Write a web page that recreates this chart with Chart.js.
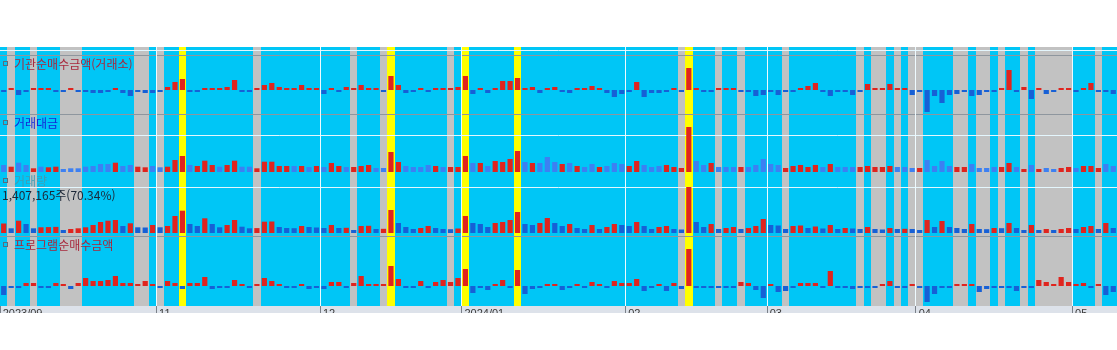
<!DOCTYPE html>
<html lang="ko">
<head>
<meta charset="utf-8">
<title>기관순매수금액 / 거래대금 / 거래량 / 프로그램순매수금액</title>
<script src="https://cdn.jsdelivr.net/npm/chart.js@4.4.1/dist/chart.umd.min.js"></script>
<style>
  html, body { margin: 0; padding: 0; background: #fff; }
  #clip { width: 1117px; height: 313px; overflow: hidden; }
  #box { position: relative; width: 1117px; height: 326px; }
</style>
</head>
<body>
<div id="clip"><div id="box"><canvas id="chart"></canvas></div></div>
<script>
// trading days shown on the chart, by month
const tradingDays = [
  ['2023/09', [26, 27]],
  ['2023/10', [4, 5, 6, 10, 11, 12, 13, 16, 17, 18, 19, 20, 23, 24, 25, 26, 27, 30, 31]],
  ['2023/11', [1, 2, 3, 6, 7, 8, 9, 10, 13, 14, 15, 16, 17, 20, 21, 22, 23, 24, 27, 28, 29, 30]],
  ['2023/12', [1, 4, 5, 6, 7, 8, 11, 12, 13, 14, 15, 18, 19, 20, 21, 22, 26, 27, 28]],
  ['2024/01', [2, 3, 4, 5, 8, 9, 10, 11, 12, 15, 16, 17, 18, 19, 22, 23, 24, 25, 26, 29, 30, 31]],
  ['2024/02', [1, 2, 5, 6, 7, 8, 13, 14, 15, 16, 19, 20, 21, 22, 23, 26, 27, 28, 29]],
  ['2024/03', [4, 5, 6, 7, 8, 11, 12, 13, 14, 15, 18, 19, 20, 21, 22, 25, 26, 27, 28, 29]],
  ['2024/04', [1, 2, 3, 4, 5, 8, 9, 11, 12, 15, 16, 17, 18, 19, 22, 23, 24, 25, 26, 29, 30]],
  ['2024/05', [2, 3, 7, 8, 9, 10]],
];

// x axis tick labels
const monthTicks = [
  ['2023/09/26', '2023/09'], ['2023/11/01', '11'], ['2023/12/01', '12'], ['2024/01/02', '2024/01'],
  ['2024/02/01', '02'], ['2024/03/04', '03'], ['2024/04/01', '04'], ['2024/05/02', '05'],
];

// highlighted days (background bands)
const yellowDays = ['2023/11/06', '2023/12/14', '2024/01/02', '2024/01/11', '2024/02/15'];
const grayDays = [
  '2023/09/27', '2023/10/06', '2023/10/13', '2023/10/16', '2023/10/17', '2023/10/27', '2023/10/30',
  '2023/11/01', '2023/11/20', '2023/12/07', '2023/12/13', '2023/12/27', '2024/02/14', '2024/02/21',
  '2024/02/26', '2024/03/06', '2024/03/20', '2024/03/22', '2024/03/25', '2024/03/27', '2024/03/29',
  '2024/04/01', '2024/04/08', '2024/04/09', '2024/04/12', '2024/04/15', '2024/04/17', '2024/04/22',
  '2024/04/24', '2024/04/25', '2024/04/26', '2024/04/29', '2024/04/30', '2024/05/08',
];

// 기관순매수금액(거래소)
const instNet = [
  -1, 1, -5, -1, 2, 1, 2, -1, -1, 1, -1, -2, -3, -3, -1, 1, -3, -6, -1, -3,
  -3, -1, 3, 8, 11, -2, -1, 2, 1, 1, 3, 10, -1, -1, 1, 5, 7, 3,
  2, 1, 5, 2, 2, -4, 2, -2, 3, 1, 5, 1, 1, -2, 14, 5, -3, -1, 1, -2,
  2, 2, 1, 3, 14, -4, 2, -3, 2, 9, 9, 12, 2, 3, -3, 2, 3,
  -1, -3, 1, 1, 4, 2, -3, -7, -4, -2, 8, -7, -3, -3, -2, 2, -2, 22, 2, -1,
  -1, 1, 1, 2, -1, -1, -6, -5, -1, -5, -1, -1, 2, 4, 7, -2, -6, -1,
  -2, -5, -1, 6, 1, 1, 6, 2, 1, -5, -1, -22, -6, -13, -5, -4, -2, -6, -5, -1,
  -1, 2, 20, -2, 3, -9, 1, -4, -2, 2, 1, -1, 2, 7, -2, -2, -4,
];

// 거래대금 and its up(1)/down(0) flags
const amount = [
  7, 5.3, 9.3, 7, 3.7, 5.3, 4.7, 5.3, 3, 3.7, 3.7, 5.3, 6, 8, 8, 9.3, 6, 7, 5.3, 4.7,
  6, 4.7, 5.3, 12, 16, 7, 6, 11.3, 7, 5.3, 7, 11.3, 5.3, 5.3, 3.7, 10.3, 10.3, 6,
  6, 6, 6, 5, 6, 5, 9, 6, 5, 5, 6, 7, 4, 4, 20, 10, 6, 5, 5, 7,
  6, 5, 5, 5, 16, 9, 9, 6, 11, 10, 13, 21, 10, 9, 9, 15, 10,
  8, 9, 6, 5, 8, 5, 6, 9, 8, 6, 11, 7, 5, 6, 7, 5, 4, 45, 11, 7,
  9, 5, 5, 5, 5, 5, 7, 13, 8, 7, 4, 6, 7, 5, 7, 5, 8, 5,
  5, 5, 5, 6, 5, 5, 6, 5, 5, 4, 4, 12, 6, 11, 6, 5, 5, 8, 4, 4,
  5, 5, 9, 5, 3, 7, 3, 4, 3, 4, 5, 4, 6, 6, 4, 8, 6,
];
const amountUp = [
  0, 1, 0, 0, 1, 0, 1, 1, 0, 0, 0, 0, 0, 0, 0, 1, 0, 0, 1, 1,
  0, 0, 1, 1, 1, 0, 1, 1, 1, 0, 1, 1, 0, 0, 1, 1, 1, 1,
  1, 0, 1, 0, 1, 0, 1, 1, 0, 1, 1, 1, 0, 0, 1, 1, 0, 0, 0, 0,
  1, 0, 1, 1, 1, 0, 1, 0, 1, 1, 1, 1, 0, 1, 0, 0, 0,
  1, 0, 1, 0, 0, 1, 0, 0, 0, 1, 1, 0, 0, 0, 1, 1, 1, 1, 0, 0,
  1, 0, 0, 0, 1, 0, 0, 0, 0, 0, 1, 1, 1, 1, 1, 0, 1, 0,
  0, 0, 1, 1, 1, 1, 1, 0, 0, 0, 1, 0, 0, 0, 0, 1, 1, 0, 0, 0,
  0, 1, 1, 0, 1, 0, 1, 0, 0, 1, 1, 0, 1, 1, 1, 0, 0,
];

// 거래량
const volume = [
  9.5, 4.7, 12.3, 9, 4.7, 5.7, 5.9, 6.1, 3, 4, 4.7, 5.7, 8, 11, 12.3, 13, 7, 9.7, 5.7, 5.5,
  8, 5.7, 7, 17, 22.3, 9, 7, 14.7, 9, 5.7, 8, 13, 6.3, 4.7, 4.9, 11.3, 11.5, 6,
  5, 4.8, 7, 6, 5.5, 5, 8, 5, 5.2, 3, 7, 7.2, 4, 4.2, 23, 10, 6, 4, 5, 7,
  5, 4, 3.8, 4.5, 17, 10, 9, 6, 10, 11, 13, 21, 9, 8, 10, 15, 10,
  7, 9, 5, 4, 8, 4, 6, 9, 8, 7, 11, 7, 4, 6, 7, 4, 3.5, 46, 11, 6,
  9, 4, 5, 6, 4, 5, 7, 14, 8, 7.5, 4, 7, 7.5, 5, 6.5, 4.5, 8, 4,
  5, 4.5, 4, 6, 4, 3.5, 5, 4, 4.2, 4, 3, 13, 6, 12, 6, 5, 4, 9, 4, 3.8,
  5, 4.8, 10, 5, 3, 8, 3, 4, 3, 4, 5, 4, 6, 7, 4, 10, 5,
];

// 프로그램순매수금액
const programNet = [
  -9, -1, -1, 3, 3, -2, -1, 3, 1, -3, 3, 8, 5, 5, 6, 10, 3, 3, 1, 5,
  1, -1, 5, 3, -3, 3, 3, 9, -3, -1, -1, 6, 2, -2, 2, 8, 5, 1,
  -1, -1, 2, -3, -1, -3, 4, 4, -2, 3, 10, 2, 1, 1, 20, 7, -2, -1, 5, -1,
  4, 6, 4, 8, 17, -7, -2, -4, 2, 6, -1, 16, -8, -3, -1, 1, 2,
  -4, -1, 2, -1.5, 4, 1, -1, 5, 3, 3, 7, -5, -2, 2, -5, 3, -3, 37, -2, -1,
  -1, -2, -1, -1, 4, 3, -4, -12, 1, -6, -5, -2, 3, 3, 3, -1.5, 15, -1,
  -1, -3, -1, -1, -1, 2, 5, -1, -1, 1, -1, -16, -8, -2, -2, 1, 1, 1, -6, -3,
  -1, -1, -2, -5, -1, -1, 6, 4, 2, 9, 4, 1, 3, -1, 1, -9, -6,
];

const volumeNote = '1,407,165주(70.34%)';

const dates = [];
tradingDays.forEach(([ym, days]) => days.forEach(d => dates.push(ym + '/' + String(d).padStart(2, '0'))));
const tickLabelAt = {};
monthTicks.forEach(([d, label]) => { tickLabelAt[dates.indexOf(d)] = label; });

const RED = '#e0241e';
const BLUE = '#1660d6';
const LIGHT_BLUE = '#3d80f2';
const CYAN = '#00c6f6';
const CLEAR = 'rgba(0,0,0,0)';

function panelAxis(min, max, weight) {
  return {
    type: 'linear',
    position: 'left',
    stack: 'panels',
    stackWeight: weight,
    min,
    max,
    offset: false,
    grid: { display: false },
    border: { display: false },
    ticks: { display: false },
    afterFit: s => { s.width = 0; },
  };
}

const panelPlugin = {
  id: 'panels',
  beforeDraw(chart) {
    const { ctx, chartArea: a, scales } = chart;
    const x = scales.x;
    const w = x.width / dates.length;
    ctx.save();
    ctx.fillStyle = '#ffffff';
    ctx.fillRect(0, 0, chart.width, a.top);
    ctx.fillStyle = CYAN;
    ctx.fillRect(a.left, a.top, a.width, a.height);
    ctx.fillStyle = '#dde2ea';
    ctx.fillRect(0, a.bottom, chart.width, chart.height - a.bottom);

    const band = (list, color) => {
      ctx.fillStyle = color;
      list.forEach(d => {
        const c = x.getPixelForValue(dates.indexOf(d));
        const l = Math.round(c - w / 2), r = Math.round(c + w / 2);
        ctx.fillRect(l, a.top, r - l, a.height);
      });
    };
    band(grayDays, '#c2c2c2');
    band(yellowDays, '#ffff00');

    // panel grid / separator lines
    const hline = (axis, value, color) => {
      const y = Math.round(scales[axis].getPixelForValue(value)) + 0.5;
      ctx.strokeStyle = color;
      ctx.lineWidth = 1;
      ctx.beginPath();
      ctx.moveTo(a.left, y);
      ctx.lineTo(a.right, y);
      ctx.stroke();
    };
    hline('yInst', 40, '#e4f6fd');
    hline('yInst', 35, '#8e969e');
    hline('yAmount', 58, '#8e969e');
    hline('yAmount', 37, '#e4f6fd');
    hline('yVol', 46, '#e4f6fd');
    hline('yProg', 50, '#8e969e');
    ctx.restore();
  },
  afterDatasetsDraw(chart) {
    const { ctx, scales } = chart;
    const titles = [
      ['yInst', '기관순매수금액(거래소)', '#a8283c', 17],
      ['yAmount', '거래대금', '#1428d8', 9],
      ['yVol', '거래량', '#3f9db5', 7],
      ['yProg', '프로그램순매수금액', '#a8283c', 9],
    ];
    ctx.save();
    ctx.font = '12px "Noto Sans CJK KR", sans-serif';
    ctx.textBaseline = 'middle';
    ctx.textAlign = 'left';
    titles.forEach(([axis, text, color, dy]) => {
      const y = scales[axis].top + dy;
      ctx.strokeStyle = '#5c6c7c';
      ctx.lineWidth = 1;
      ctx.strokeRect(3.5, Math.round(y) - 2.5, 4, 4);
      ctx.fillStyle = color;
      ctx.fillText(text, 14, y);
    });
    ctx.fillStyle = '#1c2838';
    ctx.fillText(volumeNote, 2, scales.yVol.top + 21);
    ctx.restore();
  },
};

const barBase = {
  grouped: false,
  barPercentage: 0.7,
  categoryPercentage: 1,
  borderWidth: 0,
};

new Chart(document.getElementById('chart'), {
  type: 'bar',
  data: {
    labels: dates,
    datasets: [
      {
        ...barBase,
        label: '기관순매수금액(거래소)',
        data: instNet,
        yAxisID: 'yInst',
        minBarLength: 2,
        backgroundColor: ctx => (instNet[ctx.dataIndex] >= 0 ? RED : BLUE),
      },
      {
        ...barBase,
        label: '거래대금',
        data: amount,
        yAxisID: 'yAmount',
        minBarLength: 3,
        backgroundColor: ctx => (amountUp[ctx.dataIndex] ? RED : LIGHT_BLUE),
      },
      {
        ...barBase,
        label: '거래량',
        data: volume,
        yAxisID: 'yVol',
        minBarLength: 3,
        backgroundColor: ctx => {
          const i = ctx.dataIndex;
          return i === 0 || volume[i] > volume[i - 1] ? RED : BLUE;
        },
      },
      {
        ...barBase,
        label: '프로그램순매수금액',
        data: programNet,
        yAxisID: 'yProg',
        minBarLength: 2,
        backgroundColor: ctx => (programNet[ctx.dataIndex] >= 0 ? RED : BLUE),
      },
    ],
  },
  options: {
    responsive: true,
    maintainAspectRatio: false,
    animation: false,
    devicePixelRatio: 1,
    layout: { padding: { top: 47, left: 0, right: 0, bottom: 0 } },
    plugins: {
      legend: { display: false },
      tooltip: { enabled: false },
    },
    scales: {
      x: {
        type: 'category',
        offset: true,
        border: { display: false },
        grid: {
          offset: true,
          lineWidth: 1,
          tickLength: 7,
          color: ctx => (ctx.type === 'tick' && ctx.index > 0 && tickLabelAt[ctx.index] ? '#eefaff' : CLEAR),
          tickColor: ctx => (ctx.type === 'tick' && tickLabelAt[ctx.index] ? '#7a8088' : CLEAR),
        },
        ticks: {
          autoSkip: false,
          maxRotation: 0,
          minRotation: 0,
          align: 'start',
          labelOffset: -1,
          padding: -6,
          color: '#3a3a3a',
          font: { family: 'Liberation Sans', size: 11 },
          callback: (value, index) => tickLabelAt[index] || '',
        },
        afterFit: s => { s.height = 20; },
      },
      // left stacked axes are laid out bottom-up, so the lowest panel comes first
      yProg: panelAxis(-20, 50, 70),
      yVol: panelAxis(-3, 59, 62),
      yAmount: panelAxis(-2, 58, 60),
      yInst: panelAxis(-24, 43, 67),
    },
  },
  plugins: [panelPlugin],
});
</script>
</body>
</html>
